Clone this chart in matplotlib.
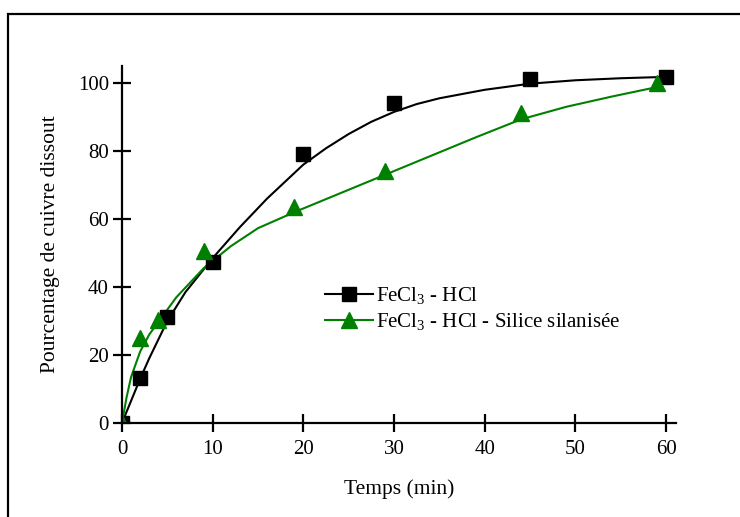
import numpy as np
from matplotlib import pyplot as plt
from matplotlib.patches import Rectangle

plt.rcParams["font.family"] = ["Liberation Serif", "DejaVu Serif"]
plt.rcParams["mathtext.default"] = "regular"

# measured points
t_fecl3 = [0, 2, 5, 10, 20, 30, 45, 60]
c_fecl3 = [0, 13.1, 31.1, 47.4, 79.1, 94.0, 101.2, 101.9]
t_silice = [0, 2, 4, 9, 19, 29, 44, 59]
c_silice = [0, 25.0, 30.3, 50.6, 63.6, 74.1, 91.1, 100.1]

# fitted curves
fit_t_fecl3 = [0, 1, 2, 3, 5, 7, 10, 13, 16, 20, 22.5, 25, 27.5, 30, 32.5, 35, 40, 45, 50, 55, 60]
fit_c_fecl3 = [0, 6.5, 13, 19, 30, 38.5, 48.5, 57.6, 66, 76, 80.8, 85, 88.6, 91.5, 93.8, 95.5, 98, 99.8, 100.8, 101.4, 101.8]
fit_t_silice = [0, 0.5, 1, 2, 3, 4, 6, 9, 12, 15, 19, 24, 29, 34, 39, 44, 49, 54, 59]
fit_c_silice = [0, 7.5, 13.5, 21, 26, 29.7, 37, 45.5, 52, 57.3, 62, 67.5, 73, 78.5, 84, 89.3, 93, 96, 98.8]

fig = plt.figure(figsize=(7.4, 5.17), dpi=100)
ax = fig.add_axes([122/740, 94/517, 554/740, 357/517])

ax.plot(fit_t_fecl3, fit_c_fecl3, color='black', lw=1.5)
ax.plot(fit_t_silice, fit_c_silice, color='green', lw=1.5)
ax.plot(t_fecl3, c_fecl3, 's', color='black', ms=9.5)
ax.plot(t_silice, c_silice, '^', color='green', ms=11)

# legend proxies (line + marker)
h1, = ax.plot([], [], '-s', color='black', ms=9.5, lw=1.5, label='FeCl$_3$ - HCl')
h2, = ax.plot([], [], '-^', color='green', ms=11, lw=1.5, label='FeCl$_3$ - HCl - Silice silanisée')
ax.legend(handles=[h1, h2], loc='upper left', bbox_to_anchor=(0.347, 0.415),
          frameon=False, fontsize=15, handlelength=2.3, handletextpad=0.15,
          labelspacing=0.22, borderpad=0)

ax.set_xlim(0, 61.1)
ax.set_ylim(0, 105)
ax.set_xticks(np.arange(0, 61, 10))
ax.set_yticks(np.arange(0, 101, 20))
for s in ['top', 'right']:
    ax.spines[s].set_visible(False)
for s in ['left', 'bottom']:
    ax.spines[s].set_linewidth(1.6)
ax.tick_params(direction='inout', length=13, width=1.6, labelsize=15)
ax.tick_params(axis='x', pad=6)
ax.tick_params(axis='y', pad=3)
ax.set_xlabel('Temps (min)', fontsize=15.5, labelpad=14)
ax.set_ylabel('Pourcentage de cuivre dissout', fontsize=15.5, labelpad=13)

fig.patches.append(Rectangle((8/740, -0.2), 1.2, 0.2 + (1 - 14/517),
                             transform=fig.transFigure, fill=False,
                             lw=1.6, edgecolor='black'))

plt.savefig('out.png', dpi=100)
